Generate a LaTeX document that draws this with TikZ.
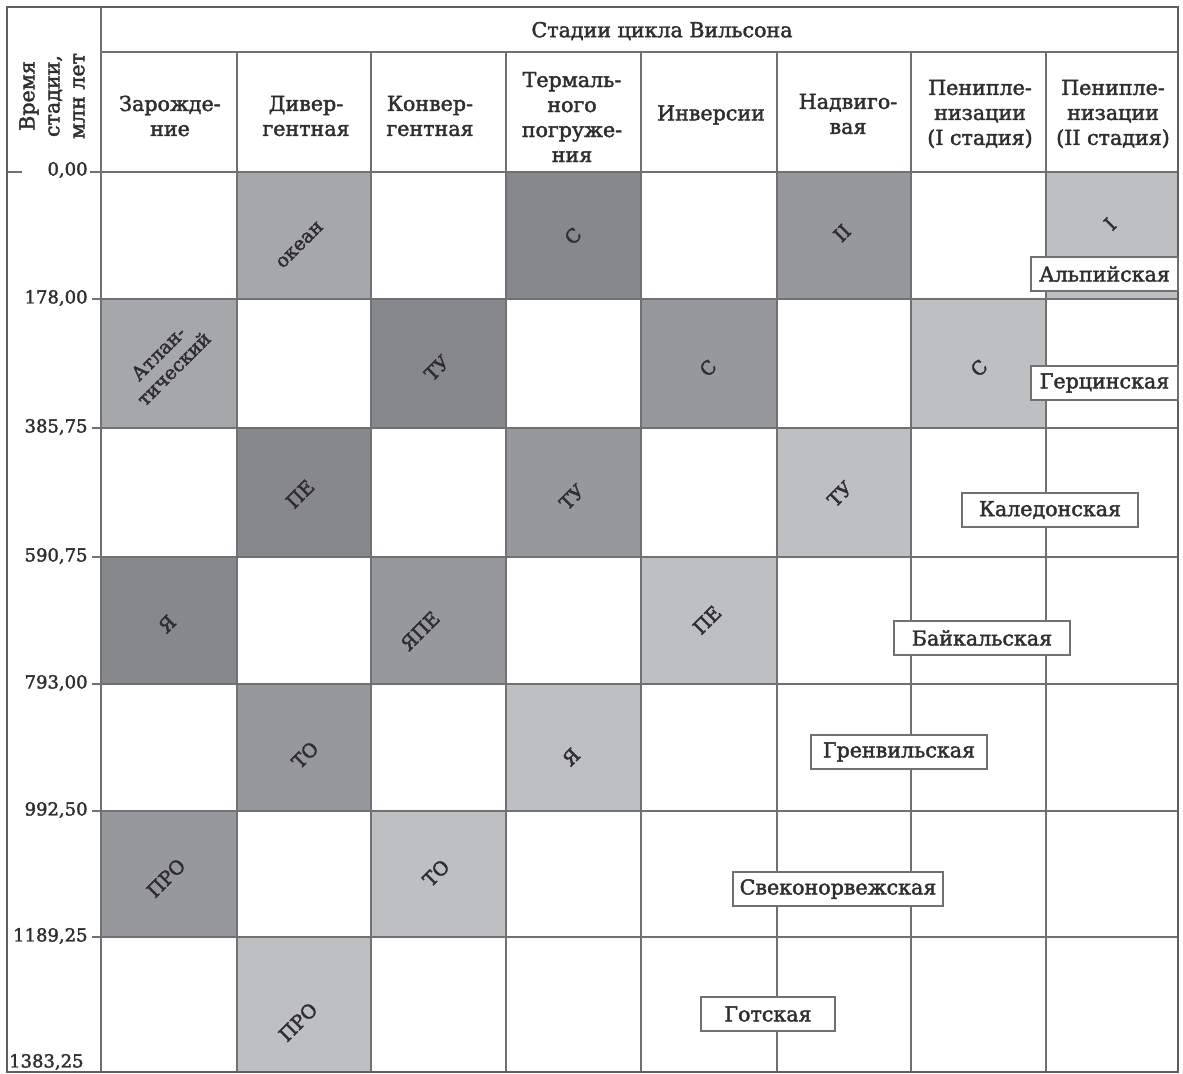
\documentclass[tikz,border=0pt]{standalone}
\usepackage{fontspec}
\setmainfont{DejaVu Serif}
\newfontfamily\tabfont{DejaVu Serif}[FakeBold=2]
\definecolor{gridgray}{HTML}{707174}
\definecolor{framegray}{HTML}{5E5F62}
\definecolor{celldark}{HTML}{87888C}
\definecolor{cellmid}{HTML}{97989C}
\definecolor{cellsoft}{HTML}{A6A7AB}
\definecolor{celllight}{HTML}{BEBFC1}
\definecolor{inkgray}{HTML}{2E2E30}
\tikzset{
  grid line/.style={gridgray,line width=1pt},
  frame/.style={framegray,line width=1.3pt},
  head/.style={align=center,text=inkgray,font=\tabfont\fontsize{10.3}{12.5}\selectfont},
  agelabel/.style={anchor=east,inner sep=0pt,text=inkgray,font=\tabfont\fontsize{9}{10}\selectfont},
  cellnote/.style={rotate=45,align=center,text=inkgray,font=\tabfont\fontsize{9.5}{11}\selectfont},
  orogeny/.style={draw=gridgray,fill=white,line width=0.7pt,text=inkgray,
    inner xsep=2pt,minimum height=17pt,minimum width=88pt,font=\tabfont\fontsize{10.3}{12}\selectfont}
}
\begin{document}
\begin{tikzpicture}[x=0.5pt,y=-0.5pt]
\useasboundingbox (0,0) rectangle (1183,1074);

% shaded cells
\foreach \xa/\ya/\xb/\yb/\c in {
  237/172/371/299/cellsoft, 506/172/641/299/celldark, 777/172/911/299/cellmid, 1046/172/1178/299/celllight,
  101/299/237/428/cellsoft, 371/299/506/428/celldark, 641/299/777/428/cellmid, 911/299/1046/428/celllight,
  237/428/371/557/celldark, 506/428/641/557/cellmid, 777/428/911/557/celllight,
  101/557/237/684/celldark, 371/557/506/684/cellmid, 641/557/777/684/celllight,
  237/684/371/811/cellmid, 506/684/641/811/celllight,
  101/811/237/937/cellmid, 371/811/506/937/celllight,
  237/937/371/1072/celllight}
  \fill[\c] (\xa,\ya) rectangle (\xb,\yb);

% grid
\foreach \x in {237,371,506,641,777,911,1046}
  \draw[grid line] (\x,52) -- (\x,1072);
\foreach \y in {299,428,557,684,811,937}
  \draw[grid line] (92,\y) -- (1178,\y);
\draw[grid line] (101,7) -- (101,1072);
\draw[grid line] (101,52) -- (1178,52);
\draw[grid line] (90,172) -- (1178,172);
\draw[grid line] (7,172) -- (22,172);
\draw[frame] (7,7) rectangle (1178,1072);

% headers
\node[head] (wilson) at (662,31) {Стадии цикла Вильсона};
\node[head,rotate=90] (time) at (52,96) {Время\\стадии,\\млн лет};
\node[head] (h-zar) at (170,116) {Зарожде-\\ние};
\node[head] (h-div) at (306,116) {Дивер-\\гентная};
\node[head] (h-conv) at (430,116) {Конвер-\\гентная};
\node[head] (h-term) at (572,117) {Термаль-\\ного\\погруже-\\ния};
\node[head] (h-inv) at (711,115) {Инверсии};
\node[head] (h-nadv) at (848,114) {Надвиго-\\вая};
\node[head] (h-pen1) at (980,114) {Пенипле-\\низации\\(I стадия)};
\node[head] (h-pen2) at (1113,114) {Пенипле-\\низации\\(II стадия)};

% ages
\node[agelabel] (t0) at (88,170) {0,00};
\node[agelabel] (t1) at (88,298) {178,00};
\node[agelabel] (t2) at (88,427) {385,75};
\node[agelabel] (t3) at (88,556) {590,75};
\node[agelabel] (t4) at (88,683) {793,00};
\node[agelabel] (t5) at (88,810) {992,50};
\node[agelabel] (t6) at (88,936) {1189,25};
\node[agelabel] (t7) at (84,1062) {1383,25};

% cell notes
\node[cellnote] (n-ocean) at (300,245) {океан};
\node[cellnote] (n-s1) at (573,236) {С};
\node[cellnote] (n-ii) at (842,233) {II};
\node[cellnote] (n-i) at (1110,224) {I};
\node[cellnote] (n-atl) at (166,361) {Атлан-\\тический};
\node[cellnote] (n-tu1) at (437,368) {ТУ};
\node[cellnote] (n-s2) at (708,368) {С};
\node[cellnote] (n-s3) at (979,368) {С};
\node[cellnote] (n-pe1) at (300,494) {ПЕ};
\node[cellnote] (n-tu2) at (572,497) {ТУ};
\node[cellnote] (n-tu3) at (840,494) {ТУ};
\node[cellnote] (n-ya1) at (167,624) {Я};
\node[cellnote] (n-yape) at (420,631) {ЯПЕ};
\node[cellnote] (n-pe2) at (707,620) {ПЕ};
\node[cellnote] (n-to1) at (305,755) {ТО};
\node[cellnote] (n-ya2) at (571,757) {Я};
\node[cellnote] (n-pro1) at (166,878) {ПРО};
\node[cellnote] (n-to2) at (436,873) {ТО};
\node[cellnote] (n-pro2) at (298,1022) {ПРО};

% orogenies
\node[orogeny,minimum width=73.5pt] (alp) at (1104.5,274) {Альпийская};
\node[orogeny,minimum width=73.5pt] (herc) at (1104.5,383) {Герцинская};
\node[orogeny] (cal) at (1050,510) {Каледонская};
\node[orogeny] (baik) at (982,638) {Байкальская};
\node[orogeny] (grenv) at (899,752) {Гренвильская};
\node[orogeny,minimum width=105pt] (svek) at (838,889) {Свеконорвежская};
\node[orogeny,minimum width=67pt] (got) at (768,1014) {Готская};
\end{tikzpicture}
\end{document}
